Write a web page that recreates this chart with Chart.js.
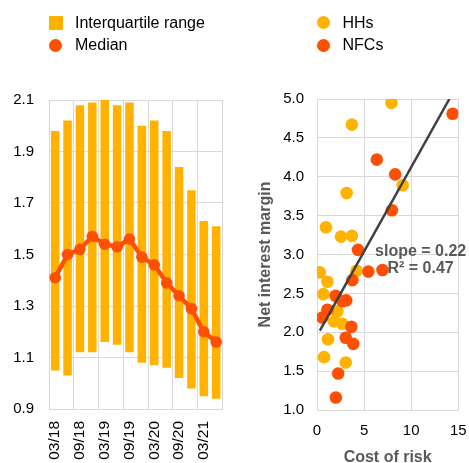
<!DOCTYPE html>
<html>
<head>
<meta charset="utf-8">
<script src="https://cdn.jsdelivr.net/npm/chart.js@4/dist/chart.umd.min.js"></script>
<style>
  body { margin: 0; width: 469px; height: 463px; position: relative; background: #fff; overflow: hidden;
         font-family: "Liberation Sans", Arial, sans-serif; }
  canvas { position: absolute; top: 0; }
  #left { left: 0; }
  #right { left: 235px; }
  .key { position: absolute; font-size: 16px; line-height: 16px; color: #000; white-space: nowrap; }
  .mark { position: absolute; }
</style>
</head>
<body>
<canvas id="left" width="235" height="463"></canvas>
<canvas id="right" width="234" height="463"></canvas>
<div id="legends"></div>
<script>
// left panel: interquartile range + median, quarterly
const quarters = ['03/18', '06/18', '09/18', '12/18', '03/19', '06/19', '09/19',
                  '12/19', '03/20', '06/20', '09/20', '12/20', '03/21', '06/21'];
const iqrLow  = [1.05, 1.03, 1.12, 1.12, 1.16, 1.15, 1.12, 1.08, 1.07, 1.06, 1.02, 0.98, 0.95, 0.94];
const iqrHigh = [1.98, 2.02, 2.08, 2.09, 2.10, 2.08, 2.09, 2.00, 2.02, 1.98, 1.84, 1.75, 1.63, 1.61];
const median  = [1.41, 1.50, 1.52, 1.57, 1.54, 1.53, 1.56, 1.49, 1.46, 1.39, 1.34, 1.29, 1.20, 1.16];

// right panel: cost of risk vs net interest margin
const hhX = [7.9, 3.7, 3.15, 9.1, 0.95, 2.55, 3.7, 0.3, 1.1, 0.67, 4.2, 2.16, 1.8, 2.69, 1.17, 0.75, 3.05];
const hhY = [4.95, 4.67, 3.79, 3.89, 3.35, 3.23, 3.24, 2.77, 2.65, 2.49, 2.79, 2.27, 2.14, 2.11, 1.91, 1.68, 1.61];
const nfcX = [14.4, 6.35, 8.3, 7.95, 4.35, 5.45, 6.95, 3.75, 1.98, 3.1, 2.7, 1.1, 0.56, 3.65, 3.05, 3.85, 2.25, 2.0];
const nfcY = [4.81, 4.22, 4.03, 3.57, 3.06, 2.78, 2.80, 2.67, 2.47, 2.41, 2.40, 2.29, 2.19, 2.07, 1.93, 1.85, 1.47, 1.16];
const fitX = [0.3, 14.05];
const fitY = [2.02, 5.0];
const fitText = ['slope = 0.22', 'R\u00b2 = 0.47'];

const GOLD = '#FFB300';
const RED = '#FF4F00';
const GRID = '#D9D9D9';
const TITLE = '#595959';
const NONE = 'rgba(0,0,0,0)';

Chart.defaults.font.family = '"Liberation Sans", Arial, sans-serif';
Chart.defaults.font.size = 15;
Chart.defaults.color = '#000';

// html legends
const legendItems = [
  { x: 49, y: 22.5, shape: 'square', color: GOLD, text: 'Interquartile range' },
  { x: 49, y: 45, shape: 'circle', color: RED, text: 'Median' },
  { x: 316.5, y: 22.5, shape: 'circle', color: GOLD, text: 'HHs' },
  { x: 316.5, y: 45, shape: 'circle', color: RED, text: 'NFCs' }
];
const legendBox = document.getElementById('legends');
legendItems.forEach((it) => {
  const m = document.createElement('div');
  m.className = 'mark';
  const s = it.shape === 'square' ? 14 : 13;
  m.style.cssText = `left:${it.x}px;top:${it.y - s / 2}px;width:${s}px;height:${s}px;background:${it.color};` +
    (it.shape === 'circle' ? 'border-radius:50%;' : '');
  legendBox.appendChild(m);
  const t = document.createElement('div');
  t.className = 'key';
  t.textContent = it.text;
  t.style.left = (it.x + 26) + 'px';
  t.style.top = (it.y - 7.8) + 'px';
  legendBox.appendChild(t);
});

new Chart(document.getElementById('left'), {
  data: {
    labels: quarters,
    datasets: [
      {
        type: 'line',
        label: 'Median',
        data: median,
        borderColor: RED,
        backgroundColor: RED,
        borderWidth: 4.5,
        pointRadius: 5.8,
        pointBorderWidth: 0,
        pointBackgroundColor: RED,
        tension: 0,
        order: 0
      },
      {
        type: 'bar',
        label: 'Interquartile range',
        data: iqrLow.map((lo, i) => [lo, iqrHigh[i]]),
        backgroundColor: GOLD,
        borderWidth: 0,
        categoryPercentage: 1,
        barPercentage: 0.69,
        order: 1
      }
    ]
  },
  options: {
    responsive: false,
    animation: false,
    layout: { padding: { top: 100, right: 5.5, left: 0, bottom: 0 } },
    plugins: { legend: { display: false }, tooltip: { enabled: false } },
    scales: {
      x: {
        offset: true,
        grid: {
          offset: true,
          drawTicks: true,
          tickLength: 12,
          tickColor: NONE,
          color: (ctx) => (ctx.type !== 'tick' || ctx.index % 2 === 0) ? GRID : NONE
        },
        border: { color: GRID },
        ticks: {
          autoSkip: false,
          maxRotation: 90,
          minRotation: 90,
          padding: 0,
          font: { size: 15.5 },
          callback: (v, i) => (i % 2 === 0 ? quarters[i] : '')
        },
        afterFit: (s) => { s.height = 54; }
      },
      y: {
        min: 0.9,
        max: 2.1,
        grid: { color: GRID, drawTicks: false },
        border: { color: GRID },
        ticks: { stepSize: 0.2, padding: 15, callback: (v) => v.toFixed(1) },
        afterFit: (s) => { s.width = 49; }
      }
    }
  }
});

const fitLabel = {
  id: 'fitLabel',
  afterDatasetsDraw(chart) {
    const { ctx, scales } = chart;
    const x = scales.x.getPixelForValue(11.0);
    ctx.save();
    ctx.font = 'bold 16px "Liberation Sans", Arial, sans-serif';
    ctx.fillStyle = TITLE;
    ctx.textAlign = 'center';
    ctx.textBaseline = 'middle';
    ctx.fillText(fitText[0], x, scales.y.getPixelForValue(3.035));
    ctx.fillText(fitText[1], x, scales.y.getPixelForValue(2.82));
    ctx.restore();
  }
};

new Chart(document.getElementById('right'), {
  type: 'scatter',
  data: {
    datasets: [
      {
        label: 'fit',
        type: 'line',
        data: fitX.map((x, i) => ({ x, y: fitY[i] })),
        borderColor: '#404040',
        borderWidth: 2.5,
        pointRadius: 0,
        order: -1
      },
      {
        label: 'NFCs',
        data: nfcX.map((x, i) => ({ x, y: nfcY[i] })),
        backgroundColor: RED,
        pointRadius: 6.3,
        pointBorderWidth: 0,
        order: 0
      },
      {
        label: 'HHs',
        data: hhX.map((x, i) => ({ x, y: hhY[i] })),
        backgroundColor: GOLD,
        pointRadius: 6.3,
        pointBorderWidth: 0,
        order: 1
      }
    ]
  },
  options: {
    responsive: false,
    animation: false,
    layout: { padding: { top: 99, right: 10.7, left: 23, bottom: 0 } },
    plugins: { legend: { display: false }, tooltip: { enabled: false } },
    scales: {
      x: {
        min: 0,
        max: 15,
        grid: { color: GRID, drawTicks: true, tickLength: 12, tickColor: NONE },
        border: { color: GRID },
        ticks: { stepSize: 5, padding: 0, maxRotation: 0 },
        title: {
          display: true,
          text: 'Cost of risk',
          color: TITLE,
          font: { size: 16, weight: 'bold', lineHeight: 0.625 },
          padding: 0
        },
        afterFit: (s) => { s.height = 53; }
      },
      y: {
        min: 1,
        max: 5,
        grid: { color: GRID, drawTicks: false },
        border: { color: GRID },
        ticks: { stepSize: 0.5, padding: 13, callback: (v) => v.toFixed(1) },
        title: {
          display: true,
          text: 'Net interest margin',
          color: TITLE,
          font: { size: 16, weight: 'bold', lineHeight: 1 },
          padding: 0
        },
        afterFit: (s) => { s.width = 59; }
      }
    }
  },
  plugins: [fitLabel]
});
</script>
</body>
</html>
